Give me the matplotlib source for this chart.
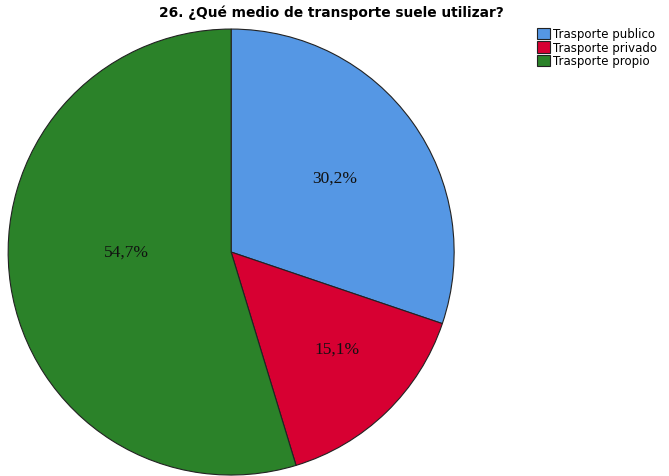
import matplotlib
matplotlib.use("Agg")
import matplotlib.pyplot as plt
import numpy as np

categories = ["Trasporte publico", "Trasporte privado", "Trasporte propio"]
values = [30.2, 15.1, 54.7]
colors = ["#5597E4", "#D70032", "#2B8229"]
label_radius = [0.57, 0.645, 0.47]
label_angle_shift = [0.0, 3.5, -8.5]
title = "26. ¿Qué medio de transporte suele utilizar?"

fig = plt.figure(figsize=(6.69, 4.77), dpi=100)
ax = fig.add_axes([0.012, 0.002, 0.667, 0.935])
wedges, texts, autotexts = ax.pie(
    values, colors=colors, startangle=90, counterclock=False,
    autopct=lambda p: f"{p:.1f}%".replace(".", ","),
    wedgeprops=dict(edgecolor="#222222", linewidth=0.8),
    textprops=dict(family="Liberation Serif", fontsize=12.5, color="#111111"),
)
ax.set_aspect("equal")
ax.set_xlim(-1, 1)
ax.set_ylim(-1, 1)

# reposition percentage labels
for w, t, r, s in zip(wedges, autotexts, label_radius, label_angle_shift):
    ang = np.deg2rad((w.theta1 + w.theta2) / 2 + s)
    t.set_position((r * np.cos(ang), r * np.sin(ang)))

fig.text(0.495, 1 - 13 / 477, title, ha="center", va="center",
         fontsize=9.9, fontweight="bold", family="DejaVu Sans")

leg = fig.legend(wedges, categories, loc="upper left",
                 bbox_to_anchor=(529 / 669, 1 - 20 / 477),
                 frameon=False, fontsize=8.5, handlelength=1.1, handleheight=1.1,
                 handletextpad=0.25, labelspacing=0.05, borderpad=0.2)

fig.savefig("out.png", dpi=100)
